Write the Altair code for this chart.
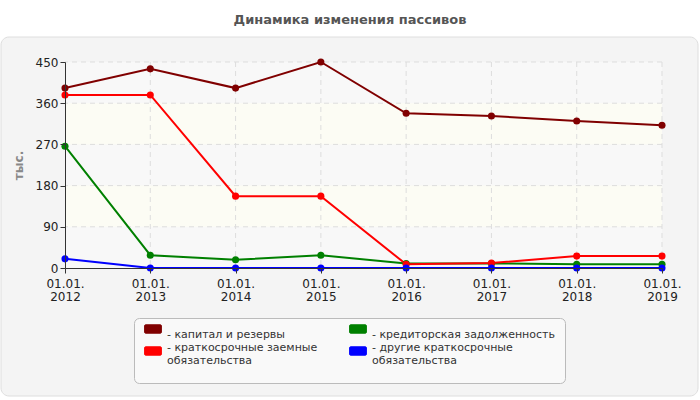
import altair as alt
import pandas as pd

years = ["01.01.2012", "01.01.2013", "01.01.2014", "01.01.2015",
         "01.01.2016", "01.01.2017", "01.01.2018", "01.01.2019"]
series_names = ["капитал и резервы", "кредиторская задолженность",
                "краткосрочные заемные обязательства", "другие краткосрочные обязательства"]
series_colors = ["#800000", "#008000", "#ff0000", "#0000ff"]
capital = [393, 435, 393, 450, 338, 332, 321, 312]
creditors = [266, 28, 18, 28, 10, 10, 8, 8]
short_loans = [378, 378, 157, 157, 8, 11, 26, 26]
other_short = [20, 0, 0, 0, 0, 0, 0, 0]
y_ticks = [0, 90, 180, 270, 360, 450]
hatch_bands = [(0, 90), (180, 270), (360, 450)]
pale_bands = [(90, 180), (270, 360)]
title_text = "Динамика изменения пассивов"
y_title = "тыс."

W, H = 597, 206
FONT = "DejaVu Sans"

rows = []
for name, vals in zip(series_names, [capital, creditors, short_loans, other_short]):
    for yr, v in zip(years, vals):
        rows.append({"year": yr, "value": v, "series": name})
df = pd.DataFrame(rows)

hatch_df = pd.DataFrame(hatch_bands, columns=["y0", "y1"])
pale_df = pd.DataFrame(pale_bands, columns=["y0", "y1"])
ygrid_df = pd.DataFrame({"v": y_ticks[1:]})
xgrid_df = pd.DataFrame({"year": years[1:]})

xscale = alt.Scale(type="point", padding=0, domain=years)
yscale = alt.Scale(domain=[0, 450])

one = pd.DataFrame({"a": [0]})
panel = alt.Chart(one).mark_rect(
    fill="#f4f4f4", stroke="#dedede", strokeWidth=1, cornerRadius=8, clip=False
).encode(x=alt.value(-64), x2=alt.value(633), y=alt.value(-25), y2=alt.value(334))

legend_box = alt.Chart(one).mark_rect(
    fill="#f9f9f9", stroke="#bbbbbb", strokeWidth=1, cornerRadius=5, clip=False
).encode(x=alt.value(69.5), x2=alt.value(500.5), y=alt.value(256.5), y2=alt.value(321.5))

title = alt.Chart(pd.DataFrame({"t": [title_text]})).mark_text(
    font=FONT, fontSize=13, fontWeight="bold", color="#555555", align="center", baseline="middle"
).encode(x=alt.value(285), y=alt.value(-42), text="t:N")

hatch = alt.Chart(hatch_df).mark_rect(fill="#f8f8f8").encode(
    y=alt.Y("y0:Q", scale=yscale), y2="y1:Q")
pale = alt.Chart(pale_df).mark_rect(fill="#fcfcf4").encode(
    y=alt.Y("y0:Q", scale=yscale), y2="y1:Q")

ygrid = alt.Chart(ygrid_df).mark_rule(color="#dddddd", strokeDash=[5, 4], strokeWidth=1).encode(
    y=alt.Y("v:Q", scale=yscale))
xgrid = alt.Chart(xgrid_df).mark_rule(color="#dddddd", strokeDash=[5, 4], strokeWidth=1).encode(
    x=alt.X("year:N", scale=xscale))

color = alt.Color(
    "series:N",
    scale=alt.Scale(domain=series_names, range=series_colors),
    legend=alt.Legend(
        title=None, orient="none", legendX=82, legendY=261, columns=2, direction="horizontal",
        symbolType="M-1.4,-0.8L1.4,-0.8Q1.6,-0.8 1.6,-0.6L1.6,0.6Q1.6,0.8 1.4,0.8L-1.4,0.8Q-1.6,0.8 -1.6,0.6L-1.6,-0.6Q-1.6,-0.8 -1.4,-0.8Z",
        symbolSize=110, symbolStrokeColor="#999999", symbolStrokeWidth=1, symbolOpacity=1,
        labelFont=FONT, labelFontSize=11, labelColor="#333333", labelLimit=400,
        labelExpr="datum.label == 'краткосрочные заемные обязательства' ? ['- краткосрочные заемные', '  обязательства'] : datum.label == 'другие краткосрочные обязательства' ? ['- другие краткосрочные', '  обязательства'] : '- ' + datum.label",
        labelBaseline={"expr": "length(datum.label) > 28 ? 'alphabetic' : 'top'"},
        labelOffset=8,
        columnPadding=29, rowPadding=2, padding=0,
        zindex=2,
    ),
)

axis_common = dict(labelFont=FONT, labelFontSize=12, labelColor="#222222",
                   domainColor="#333333", tickColor="#333333", tickSize=5, grid=False, zindex=1)

base = alt.Chart(df).encode(
    x=alt.X("year:N", scale=xscale, sort=years,
            axis=alt.Axis(title=None, labelAngle=0, labelExpr="['01.01.', substring(datum.label, 6)]",
                          labelBaseline="top", labelAlign="center", labelFlush=False, labelBound=False,
                          labelOverlap=False, labelPadding=5, labelLineHeight=13, **axis_common)),
    y=alt.Y("value:Q", scale=yscale,
            axis=alt.Axis(values=y_ticks, title=y_title, titleFont=FONT, titleFontSize=12,
                          titleFontWeight="bold", titleColor="#888888", titlePadding=10,
                          **axis_common)),
    color=color,
)
lines = base.mark_line(strokeWidth=2)
points = base.mark_point(filled=True, size=50, opacity=1, shape="circle")

chart = alt.layer(panel, legend_box, title, hatch, pale, ygrid, xgrid, lines, points).properties(
    width=W, height=H,
    autosize=alt.AutoSizeParams(type="none"),
    padding={"left": 65, "top": 62, "right": 38, "bottom": 132},
    background="white",
).configure_view(stroke="#dddddd", strokeWidth=1)

chart.save("out.html", embed_options={"renderer": "svg", "actions": False})
